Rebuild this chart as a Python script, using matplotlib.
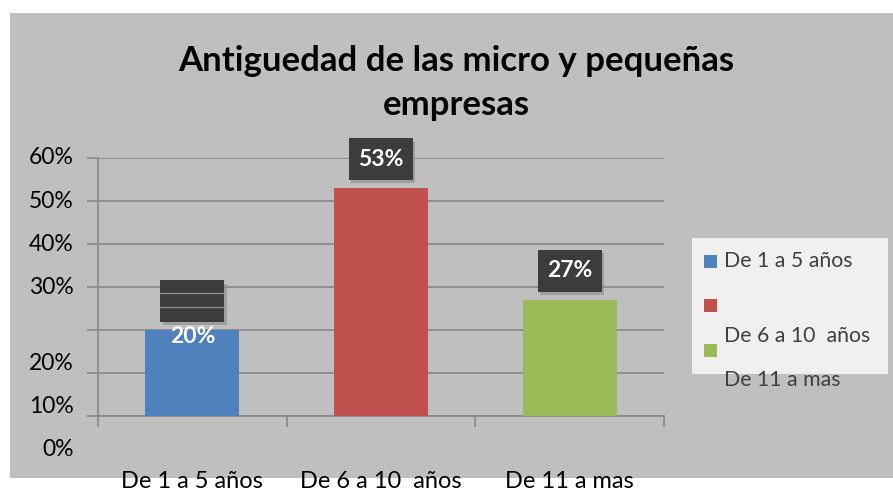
import matplotlib.pyplot as plt
from matplotlib.patches import Rectangle

categories = ["De 1 a 5 años", "De 6 a 10  años", "De 11 a mas"]
values = [0.20, 0.53, 0.27]
value_labels = ["20%", "53%", "27%"]
colors = ["#4f81bd", "#c0504d", "#9bbb59"]
legend_labels = ["De 1 a 5 años", "", "De 6 a 10  años", "De 11 a mas"]
ytick_labels = ["60%", "50%", "40%", "30%", "20%", "10%", "0%"]
# the labels sit off the gridlines in the original, kept that way
ytick_pos = [0.60, 0.50, 0.40, 0.30, 0.121, 0.023, -0.079]
title = "Antiguedad de las micro y pequeñas\nempresas"

plt.rcParams['font.family'] = ['Lato', 'DejaVu Sans']

W, H = 893, 492
fig = plt.figure(figsize=(W / 100, H / 100), dpi=100, facecolor="white")

def fx(px):
    return px / W

def fy(py):
    return 1 - py / H

# grey chart area
fig.patches.append(Rectangle((fx(10), fy(478)), fx(883), 465 / H,
                             transform=fig.transFigure, facecolor="#bfbfbf",
                             edgecolor="none", zorder=-2))

ax = fig.add_axes([fx(98), fy(416), fx(664 - 98), (416 - 158) / H])
ax.set_zorder(2)
ax.set_facecolor("none")
ax.set_xlim(-0.5, 2.5)
ax.set_ylim(0, 0.6)

grid_c = "#8c8c8c"
ax.set_yticks([0, 0.1, 0.2, 0.3, 0.4, 0.5, 0.6])
ax.set_yticklabels([])
ax.set_xticks([-0.5, 0.5, 1.5, 2.5])
ax.set_xticklabels([])
ax.tick_params(axis="both", length=8, width=1.3, color=grid_c, direction="out")
ax.grid(axis="y", color=grid_c, linewidth=1.3)
ax.set_axisbelow(True)
for s in ["top", "right"]:
    ax.spines[s].set_visible(False)
ax.spines["left"].set_color(grid_c)
ax.spines["bottom"].set_color(grid_c)
ax.spines["left"].set_linewidth(1.3)
ax.spines["bottom"].set_linewidth(1.3)

x = list(range(len(categories)))
ax.bar(x, values, width=0.5, color=colors, zorder=3)

for yl, yp in zip(ytick_labels, ytick_pos):
    ax.text(-0.63, yp, yl, ha="right", va="center", fontsize=16.5,
            color="black", clip_on=False)

for xi, c in zip(x, categories):
    ax.text(xi, -0.152, c, ha="center", va="center", fontsize=17,
            color="black", clip_on=False)

# dark data label boxes
bw, bh = 0.34, 0.097
for xi, v, lab in zip(x, values, value_labels):
    b0 = v + 0.019
    ax.add_patch(Rectangle((xi - bw / 2 + 0.012, b0 - 0.008), bw, bh,
                           facecolor="#8a8a8a", edgecolor="none", alpha=0.6,
                           zorder=4, clip_on=False))
    ax.add_patch(Rectangle((xi - bw / 2, b0), bw, bh,
                           facecolor="#3c3c3c", edgecolor="none", zorder=5,
                           clip_on=False))
    if xi == 0:
        for frac in (0.35, 0.68):
            ax.plot([xi - bw / 2, xi + bw / 2], [b0 + bh * frac] * 2,
                    color="#8e8e8e", linewidth=1.0, zorder=6)
        ax.text(xi, v - 0.015, lab, ha="center", va="center", fontsize=16.5,
                fontweight="bold", color="white", zorder=6)
    else:
        ax.text(xi, b0 + bh / 2, lab, ha="center", va="center", fontsize=16.5,
                fontweight="bold", color="white", zorder=6, clip_on=False)

fig.text(fx(456), fy(83), title, ha="center", va="center", fontsize=25,
         fontweight="bold", linespacing=1.45)

# legend
fig.patches.append(Rectangle((fx(692), fy(374)), fx(888 - 692), (374 - 238) / H,
                             transform=fig.transFigure, facecolor="#f0f0f0",
                             edgecolor="none", zorder=-1))
sq = 13
for c, yc in zip(colors, [261, 305, 350]):
    fig.patches.append(Rectangle((fx(704), fy(yc + sq / 2)), fx(sq), sq / H,
                                 transform=fig.transFigure, facecolor=c,
                                 edgecolor="none", zorder=-1))
for lab, yc in zip(legend_labels, [261, 305, 336, 380]):
    fig.text(fx(724), fy(yc), lab, ha="left", va="center", fontsize=15.3,
             color="#404040", zorder=3)

fig.savefig("out.png", dpi=100, facecolor="white")
